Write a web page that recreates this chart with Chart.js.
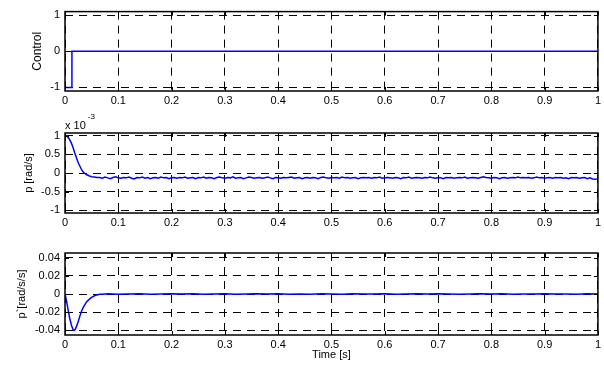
<!DOCTYPE html>
<html>
<head>
<meta charset="utf-8">
<script src="https://cdn.jsdelivr.net/npm/chart.js@4/dist/chart.umd.min.js"></script>
<style>
  html, body { margin: 0; padding: 0; background: #fff; }
  #wrap { position: relative; width: 604px; height: 367px; }
  #wrap canvas { position: absolute; left: 0; }
</style>
</head>
<body>
<div id="wrap">
  <canvas id="ctl" width="604" height="112" style="top:0"></canvas>
  <canvas id="rate" width="604" height="120" style="top:112px"></canvas>
  <canvas id="acc" width="604" height="135" style="top:232px"></canvas>
</div>
<script>
// time axis, shared by all three panels
const timeTicks  = [0, 0.1, 0.2, 0.3, 0.4, 0.5, 0.6, 0.7, 0.8, 0.9, 1];
const timeLabels = ['0', '0.1', '0.2', '0.3', '0.4', '0.5', '0.6', '0.7', '0.8', '0.9', '1'];

// control input: -1 pulse then off
const controlT = [0, 0.013, 0.013, 1];
const controlV = [-1, -1, 0, 0];
const controlTicks  = [-1, 0, 1];
const controlLabels = ['-1', '0', '1'];

// roll rate p, in units of 1e-3 rad/s
const rateT = [0, 0.002, 0.004, 0.006, 0.008, 0.010, 0.012, 0.014, 0.016, 0.018,
               0.020, 0.022, 0.024, 0.026, 0.028, 0.030, 0.032, 0.034, 0.036, 0.038,
               0.040, 0.043, 0.046, 0.050, 0.055, 0.060];
const rateV = [1.00, 1.00, 0.98, 0.95, 0.91, 0.86, 0.80, 0.72, 0.64, 0.55,
               0.47, 0.39, 0.31, 0.24, 0.18, 0.12, 0.07, 0.03, 0.00, -0.02,
               -0.04, -0.06, -0.08, -0.10, -0.11, -0.12];
// steady part, sampled every 5 ms from 0.065 s
const rateTailStart = 0.065, rateTailStep = 0.005;
const rateTail = [
  -0.12,-0.14,-0.11,-0.13,-0.15,-0.12,-0.10,-0.13,-0.14,-0.12,
  -0.13,-0.11,-0.14,-0.16,-0.12,-0.13,-0.11,-0.14,-0.12,-0.15,
  -0.13,-0.12,-0.14,-0.11,-0.13,-0.12,-0.15,-0.13,-0.12,-0.14,
  -0.12,-0.13,-0.11,-0.14,-0.13,-0.12,-0.15,-0.12,-0.13,-0.11,
  -0.14,-0.12,-0.13,-0.15,-0.12,-0.11,-0.13,-0.14,-0.12,-0.13,
  -0.10,-0.14,-0.13,-0.12,-0.15,-0.13,-0.11,-0.12,-0.14,-0.13,
  -0.12,-0.14,-0.13,-0.11,-0.13,-0.15,-0.12,-0.13,-0.14,-0.12,
  -0.13,-0.12,-0.11,-0.14,-0.13,-0.12,-0.15,-0.13,-0.12,-0.14,
  -0.12,-0.13,-0.15,-0.12,-0.11,-0.13,-0.14,-0.12,-0.13,-0.12,
  -0.14,-0.11,-0.13,-0.12,-0.14,-0.13,-0.12,-0.15,-0.13,-0.12,
  -0.13,-0.12,-0.14,-0.12,-0.13,-0.11,-0.14,-0.13,-0.12,-0.13,
  -0.14,-0.12,-0.13,-0.15,-0.12,-0.13,-0.11,-0.14,-0.13,-0.12,
  -0.13,-0.14,-0.12,-0.13,-0.11,-0.13,-0.14,-0.12,-0.13,-0.15,
  -0.12,-0.13,-0.12,-0.14,-0.13,-0.12,-0.13,-0.11,-0.14,-0.13,
  -0.12,-0.13,-0.14,-0.12,-0.10,-0.12,-0.13,-0.14,-0.12,-0.13,
  -0.15,-0.13,-0.12,-0.14,-0.13,-0.12,-0.13,-0.11,-0.13,-0.12,
  -0.13,-0.12,-0.14,-0.13,-0.11,-0.13,-0.12,-0.14,-0.13,-0.12,
  -0.14,-0.12,-0.13,-0.12,-0.14,-0.13,-0.15,-0.12,-0.13,-0.12,
  -0.14,-0.13,-0.12,-0.15,-0.13,-0.16,-0.17,-0.15
];
const rateTicks  = [-1, -0.5, 0, 0.5, 1];
const rateLabels = ['-1', '-0.5', '0', '0.5', '1'];

// roll acceleration p-dot, rad/s/s
const accT = [0, 0.003, 0.006, 0.009, 0.012, 0.015, 0.017, 0.019, 0.022, 0.025,
              0.028, 0.031, 0.034, 0.037, 0.040, 0.044, 0.048, 0.052, 0.056, 0.060,
              0.065, 0.070];
const accV = [0, -0.008, -0.018, -0.027, -0.034, -0.039, -0.040, -0.039, -0.035, -0.030,
              -0.024, -0.019, -0.015, -0.012, -0.009, -0.0065, -0.0045, -0.003, -0.0018, -0.001,
              -0.0004, -0.0002];
const accTailStart = 0.08, accTailStep = 0.02;
const accTail = [
  0.0002,-0.0003,0.0001,0.0004,-0.0002,0.0000,0.0003,-0.0001,0.0002,-0.0003,
  0.0001,0.0003,-0.0002,0.0000,0.0002,-0.0001,0.0004,-0.0002,0.0001,-0.0003,
  0.0002,0.0000,-0.0002,0.0003,0.0001,-0.0001,0.0002,-0.0003,0.0001,0.0002,
  -0.0001,0.0003,0.0000,-0.0002,0.0001,0.0002,-0.0001,0.0003,-0.0002,0.0001,
  0.0000,0.0002,-0.0001,0.0001,-0.0002,0.0002,0.0000
];
const accTicks  = [-0.04, -0.02, 0, 0.02, 0.04];
const accLabels = ['-0.04', '-0.02', '0', '0.02', '0.04'];

const FONT = '"Liberation Sans", Arial, sans-serif';
const pts  = (ts, vs) => ts.map((t, i) => ({ x: t, y: vs[i] }));
const tail = (t0, dt, vs) => vs.map((v, i) => ({ x: +(t0 + i * dt).toFixed(4), y: v }));

// closed axes box, inward tick marks and the optional exponent note
const boxPlugin = {
  id: 'axesBox',
  afterDraw(chart, args, opts) {
    const { ctx, chartArea: a, scales: { x, y } } = chart;
    const al = (v) => Math.round(v) + 0.5;
    ctx.save();
    ctx.strokeStyle = '#000';
    ctx.lineWidth = 1;
    ctx.setLineDash([]);
    ctx.beginPath();
    x.ticks.forEach(t => {
      const px = al(x.getPixelForValue(t.value));
      ctx.moveTo(px, a.bottom); ctx.lineTo(px, a.bottom - 4);
      ctx.moveTo(px, a.top);    ctx.lineTo(px, a.top + 4);
    });
    y.ticks.forEach(t => {
      const py = al(y.getPixelForValue(t.value));
      ctx.moveTo(a.left, py);  ctx.lineTo(a.left + 4, py);
      ctx.moveTo(a.right, py); ctx.lineTo(a.right - 4, py);
    });
    ctx.stroke();
    ctx.lineWidth = 1.5;
    ctx.strokeRect(a.left, a.top, a.right - a.left, a.bottom - a.top);
    if (opts.exponent) {
      ctx.fillStyle = '#000';
      ctx.textBaseline = 'alphabetic';
      ctx.textAlign = 'left';
      ctx.font = '11px ' + FONT;
      const base = 'x 10';
      ctx.fillText(base, a.left, a.top - 4.5);
      const w = ctx.measureText(base).width;
      ctx.font = '8px ' + FONT;
      ctx.fillText(opts.exponent, a.left + w + 2, a.top - 14);
    }
    ctx.restore();
  }
};

function panel(id, cfg) {
  const font = { family: FONT, size: 11 };
  return new Chart(document.getElementById(id), {
    type: 'line',
    data: {
      datasets: [{
        data: cfg.points,
        borderColor: '#0000ff',
        borderWidth: 1.5,
        pointRadius: 0,
        tension: 0,
        fill: false
      }]
    },
    options: {
      responsive: false,
      animation: false,
      events: [],
      layout: { padding: { top: cfg.top, right: 4, left: 0, bottom: 0 } },
      plugins: {
        legend: { display: false },
        tooltip: { enabled: false },
        axesBox: { exponent: cfg.exponent || null }
      },
      scales: {
        x: {
          type: 'linear', min: 0, max: 1,
          afterBuildTicks: s => { s.ticks = timeTicks.map(v => ({ value: v })); },
          afterFit: s => { s.height = cfg.xHeight; },
          ticks: { callback: (v, i) => timeLabels[i], color: '#000', font, padding: 3,
                   maxRotation: 0, autoSkip: false },
          grid: { color: '#000', lineWidth: 1, drawTicks: false },
          border: { display: false, dash: [8, 6] },
          title: cfg.xTitle
            ? { display: true, text: cfg.xTitle, color: '#000', font, padding: { top: 0, bottom: 5 } }
            : { display: false }
        },
        y: {
          type: 'linear', min: cfg.yMin, max: cfg.yMax,
          afterBuildTicks: s => { s.ticks = cfg.yTicks.map(v => ({ value: v })); },
          afterFit: s => { s.width = 65; },
          ticks: { callback: (v, i) => cfg.yLabels[i], color: '#000', font, padding: 5, autoSkip: false },
          grid: { color: '#000', lineWidth: 1, drawTicks: false },
          border: { display: false, dash: [8, 6] },
          title: { display: true, text: cfg.yTitle, color: '#000',
                   font: { family: FONT, size: cfg.yTitleSize || 11 },
                   padding: { top: cfg.yTitlePad, bottom: 0 } }
        }
      }
    },
    plugins: [boxPlugin]
  });
}

panel('ctl', {
  points: pts(controlT, controlV),
  top: 9, xHeight: 21,
  yMin: -1.1, yMax: 1.1, yTicks: controlTicks, yLabels: controlLabels,
  yTitle: 'Control', yTitleSize: 12, yTitlePad: 30.5
});

panel('rate', {
  points: pts(rateT, rateV).concat(tail(rateTailStart, rateTailStep, rateTail)),
  top: 21, xHeight: 19,
  yMin: -1.07, yMax: 1.07, yTicks: rateTicks, yLabels: rateLabels,
  yTitle: 'p [rad/s]', yTitlePad: 22.4, exponent: '-3'
});

panel('acc', {
  points: pts(accT, accV).concat(tail(accTailStart, accTailStep, accTail)),
  top: 21, xHeight: 32,
  yMin: -0.045, yMax: 0.045, yTicks: accTicks, yLabels: accLabels,
  yTitle: 'p`[rad/s/s]', yTitlePad: 15.4, xTitle: 'Time [s]'
});
</script>
</body>
</html>
